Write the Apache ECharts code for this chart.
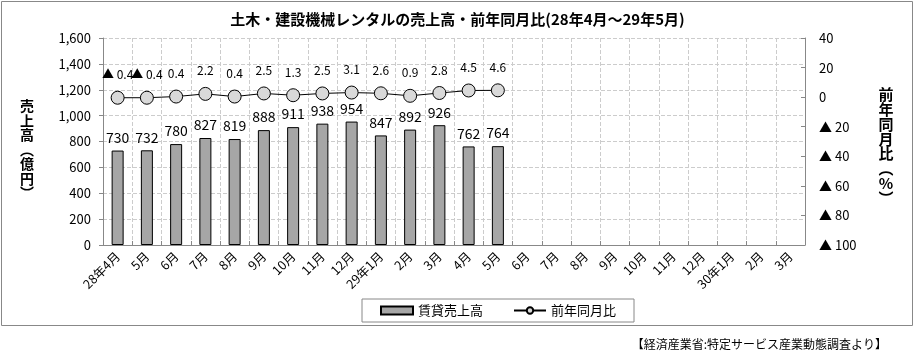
<!DOCTYPE html>
<html><head><meta charset="utf-8">
<script src="https://cdn.jsdelivr.net/npm/echarts@6/dist/echarts.min.js"></script>
<style>html,body{margin:0;padding:0;background:#fff}#c{width:915px;height:359px}</style>
</head><body><div id="c"></div>
<script>
const categories = ['28年4月','5月','6月','7月','8月','9月','10月','11月','12月','29年1月','2月','3月','4月','5月','6月','7月','8月','9月','10月','11月','12月','30年1月','2月','3月'];
const sales = [730,732,780,827,819,888,911,938,954,847,892,926,762,764];
const yoy = [-0.4,-0.4,0.4,2.2,0.4,2.5,1.3,2.5,3.1,2.6,0.9,2.8,4.5,4.6];
const leftTicks = {min:0,max:1600,interval:200};
const rightTicks = {min:-100,max:40,interval:20};
const leftTitle = ['売','上','高','︵','億','円','︶'];
const rightTitle = ['前','年','同','月','比','︵','%','︶'];

const FONT = '"Noto Sans CJK JP", "Liberation Sans", sans-serif';
const fmtPct = v => v < 0 ? '▲ ' + Math.abs(v) : String(v);

function vText(chars, cx, top, pitch, size, weight){
  return chars.map((ch,i)=>({type:'text',x:cx,y:top+i*pitch,
    style:{text:ch,fontSize:size,fontWeight:weight,fill:'#000',fontFamily:FONT,align:'center',verticalAlign:'top'}}));
}

const chart = echarts.init(document.getElementById('c'), null, {renderer:'canvas'});
chart.setOption({
  animation:false,
  textStyle:{fontFamily:FONT},
  title:{text:'土木・建設機械レンタルの売上高・前年同月比(28年4月～29年5月)',left:'center',top:7,
    textStyle:{fontSize:15,fontWeight:'bold',color:'#000',fontFamily:FONT}},
  grid:{left:103,right:110,top:38,bottom:114,containLabel:false},
  legend:{bottom:37,left:362,itemWidth:32,itemHeight:8,itemGap:30,
    borderColor:'#888',borderWidth:1,padding:[5,18,5,18],
    textStyle:{fontSize:13,color:'#000',fontFamily:FONT},
    data:[{name:'賃貸売上高',icon:'rect'},{name:'前年同月比'}]},
  xAxis:{type:'category',data:categories,boundaryGap:true,
    axisLine:{lineStyle:{color:'#888'}},
    axisTick:{show:true,inside:true,length:4,lineStyle:{color:'#888'}},
    splitLine:{show:true,lineStyle:{color:'#ccc',type:'dashed'}},
    axisLabel:{rotate:45,fontSize:12.5,color:'#000',interval:0,margin:9,fontFamily:FONT}},
  yAxis:[
    {type:'value',min:leftTicks.min,max:leftTicks.max,interval:leftTicks.interval,position:'left',
     axisLine:{show:true,lineStyle:{color:'#888'}},axisTick:{show:true,length:4,lineStyle:{color:'#888'}},
     splitLine:{show:true,lineStyle:{color:'#ccc',type:'dashed'}},
     axisLabel:{fontSize:13,color:'#000',margin:12,formatter:v=>v.toLocaleString('en-US')}},
    {type:'value',min:rightTicks.min,max:rightTicks.max,interval:rightTicks.interval,position:'right',
     axisLine:{show:true,lineStyle:{color:'#888'}},axisTick:{show:true,inside:true,length:4,lineStyle:{color:'#888'}},
     splitLine:{show:false},
     axisLabel:{fontSize:13,color:'#000',margin:14,formatter:fmtPct}}
  ],
  series:[
    {name:'賃貸売上高',type:'bar',data:sales,barWidth:12,yAxisIndex:0,
     itemStyle:{color:'#a6a6a6',borderColor:'#000',borderWidth:1},
     label:{show:true,position:'top',distance:6,fontSize:14,color:'#000'}},
    {name:'前年同月比',type:'line',data:yoy,yAxisIndex:1,symbol:'circle',symbolSize:13,
     lineStyle:{color:'#000',width:1},
     itemStyle:{color:'#d9d9d9',borderColor:'#000',borderWidth:1},
     label:{show:true,position:'top',distance:10,fontSize:12,color:'#000',formatter:p=>fmtPct(p.value)}}
  ],
  graphic:[
    {type:'rect',shape:{x:1.5,y:1.5,width:911,height:324},style:{fill:'none',stroke:'#888',lineWidth:1},z:-1},
    ...vText(leftTitle, 27, 99, 14.5, 14, 'bold'),
    ...vText(rightTitle, 886, 87, 14.8, 15, 'bold'),
    {type:'text',right:28,top:338,style:{text:'【経済産業省:特定サービス産業動態調査より】',fontSize:12,fill:'#000',fontFamily:FONT}}
  ]
});
</script></body></html>
